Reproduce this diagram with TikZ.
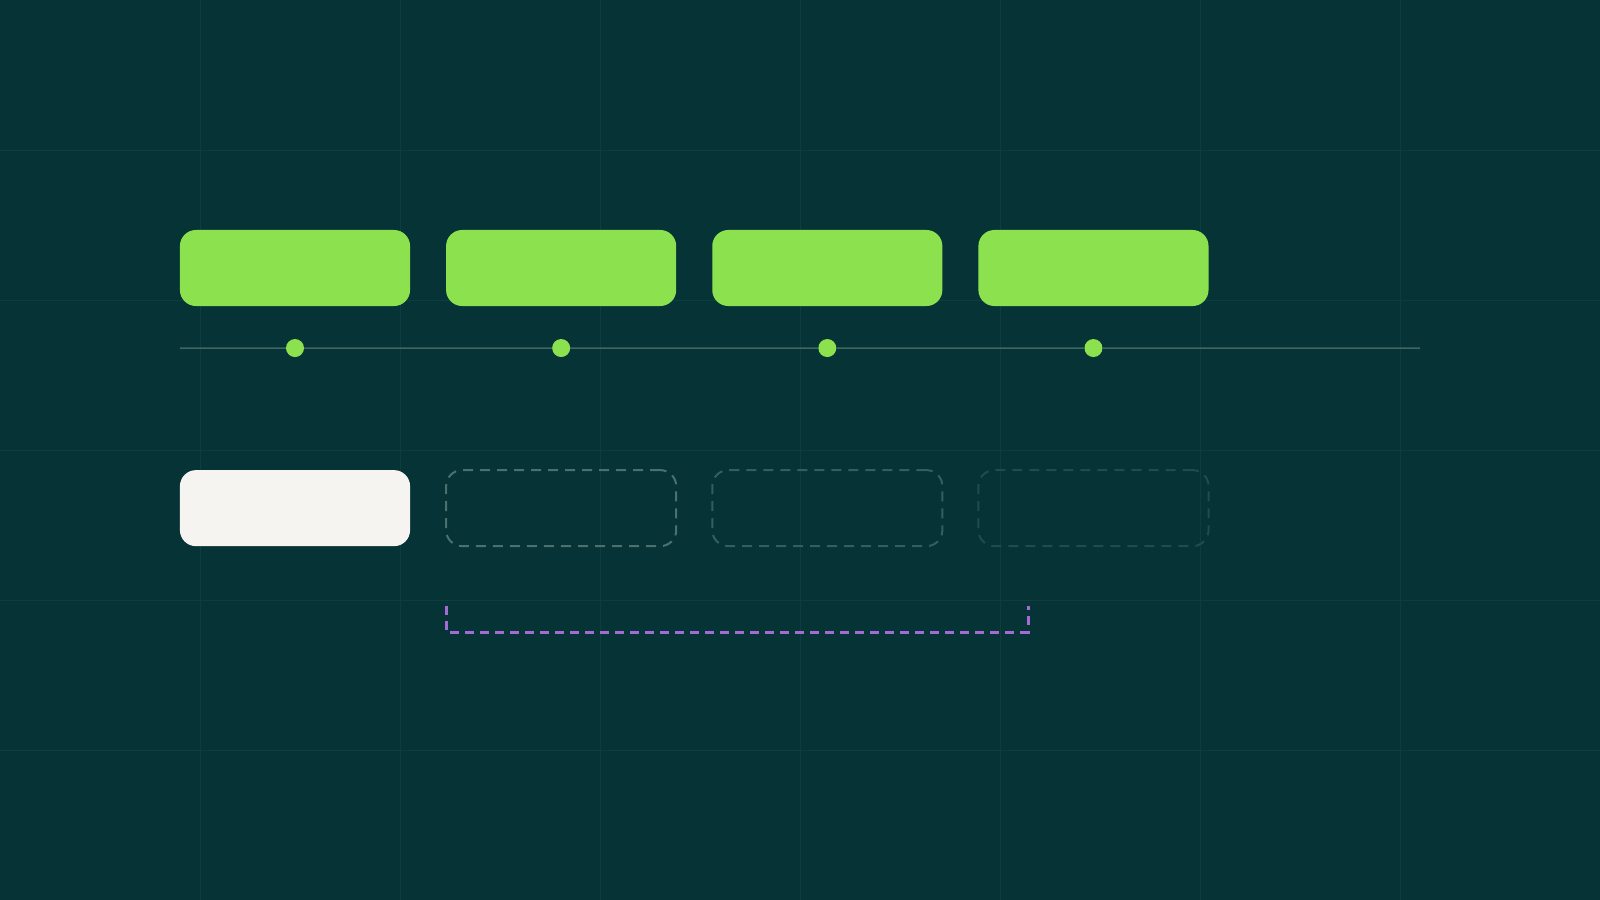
\documentclass[tikz,border=0pt]{standalone}
\usepackage{tikz}
\usetikzlibrary{positioning}

\definecolor{bgteal}{HTML}{053336}
\definecolor{gridteal}{HTML}{0C3E40}
\definecolor{limegreen}{HTML}{8CE14E}
\definecolor{offwhite}{HTML}{F5F4F1}
\definecolor{lineteal}{HTML}{3F6663}
\definecolor{slotA}{HTML}{4B716E}
\definecolor{slotB}{HTML}{33605D}
\definecolor{slotC}{HTML}{1F4D4C}
\definecolor{bracketpurple}{HTML}{A46BD6}

\tikzset{
  gridline/.style = {gridteal, line width=0.01cm},
  card/.style = {minimum width=2.3cm, minimum height=0.76cm, inner sep=0pt,
                 outer sep=0pt, rounded corners=0.16cm},
  stage/.style = {card, fill=limegreen},
  slot/.style = {card, line width=0.02cm, dash pattern=on 0.1cm off 0.07cm},
  tick/.style = {circle, fill=limegreen, minimum size=0.18cm, inner sep=0pt,
                 outer sep=0pt},
}

\begin{document}
\begin{tikzpicture}[x=0.01cm, y=-0.01cm]
        % background, fixes the page size
        \fill[bgteal] (0,0) rectangle (1600,900);
        \useasboundingbox (0,0) rectangle (1600,900);

        % faint grid
        \foreach \gx in {200,400,...,1400}
            \draw[gridline] (\gx,0) -- (\gx,900);
        \foreach \gy in {150,300,...,750}
            \draw[gridline] (0,\gy) -- (1600,\gy);

        % top row of stages
        \node[stage] (stage1) at (295,268) {};
        \node[stage, right=0.36cm of stage1] (stage2) {};
        \node[stage, right=0.36cm of stage2] (stage3) {};
        \node[stage, right=0.36cm of stage3] (stage4) {};

        % ticks under the stages
        \foreach \i in {1,...,4}
            \node[tick, below=0.33cm of stage\i] (tick\i) {};

        % timeline, between the ticks
        \coordinate (tlstart) at (stage1.west |- tick1);
        \coordinate (tlend) at (1420,348);
        \draw[lineteal, line width=0.015cm] (tlstart) -- (tick1)
            (tick1) -- (tick2) (tick2) -- (tick3) (tick3) -- (tick4)
            (tick4) -- (tlend);

        % lower row: one filled, three empty slots
        \node[card, fill=offwhite, below=1.64cm of stage1] (slot1) {};
        \node[slot, draw=slotA, below=1.64cm of stage2] (slot2) {};
        \node[slot, draw=slotB, below=1.64cm of stage3] (slot3) {};
        \node[slot, draw=slotC, below=1.64cm of stage4] (slot4) {};

        % bracket under the empty slots
        \coordinate (brleft) at ([yshift=-0.6cm]slot2.south west);
        \coordinate (brright) at (brleft -| 1028,0);
        \draw[bracketpurple, line width=0.03cm, dash pattern=on 0.09cm off 0.06cm]
            (brleft) -- ++(0,26) -| (brright);
\end{tikzpicture}
\end{document}
